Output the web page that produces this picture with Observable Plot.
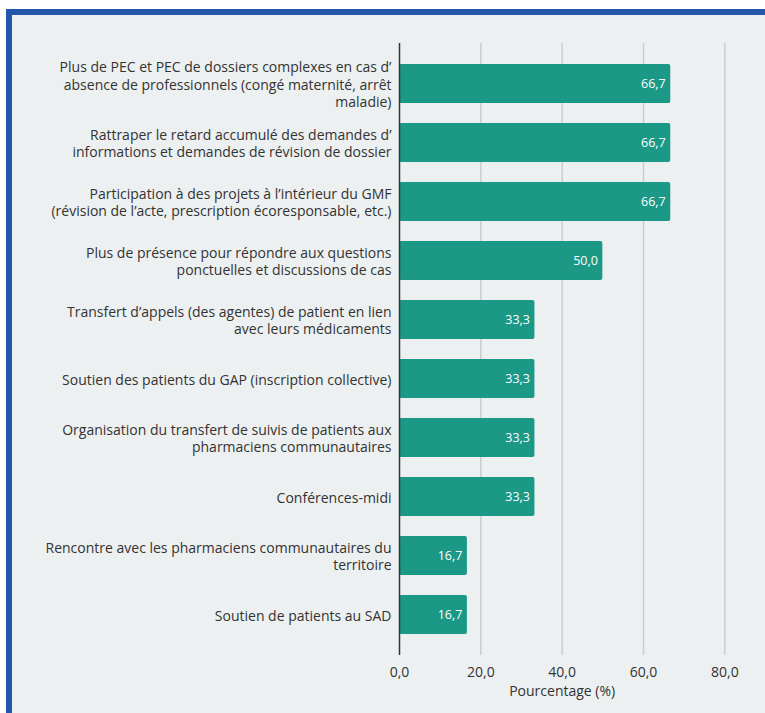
<!DOCTYPE html>
<html>
<head>
<meta charset="utf-8">
<script src="https://cdn.jsdelivr.net/npm/d3@7"></script>
<script src="https://cdn.jsdelivr.net/npm/@observablehq/plot@0.6"></script>
<style>
  html, body { margin: 0; padding: 0; background: #ffffff; overflow: hidden; }
  #frame {
    position: absolute; left: 6px; top: 9px;
    width: 800px; height: 760px;
    border-left: 6px solid #2456ac; border-top: 6px solid #2456ac;
    background: #ecf0f1;
  }
  #chart svg { display: block; }
</style>
</head>
<body>
<div id="frame"><div id="chart"></div></div>
<script>
const categories = [
  "Plus de PEC et PEC de dossiers complexes en cas d’\nabsence de professionnels (congé maternité, arrêt\nmaladie)",
  "Rattraper le retard accumulé des demandes d’\ninformations et demandes de révision de dossier",
  "Participation à des projets à l’intérieur du GMF\n(révision de l’acte, prescription écoresponsable, etc.)",
  "Plus de présence pour répondre aux questions\nponctuelles et discussions de cas",
  "Transfert d’appels (des agentes) de patient en lien\navec leurs médicaments",
  "Soutien des patients du GAP (inscription collective)",
  "Organisation du transfert de suivis de patients aux\npharmaciens communautaires",
  "Conférences-midi",
  "Rencontre avec les pharmaciens communautaires du\nterritoire",
  "Soutien de patients au SAD"
];
const values = [66.7, 66.7, 66.7, 50.0, 33.3, 33.3, 33.3, 33.3, 16.7, 16.7];
const xTicks = [0, 20, 40, 60, 80];
const xLabel = "Pourcentage (%)";

const data = categories.map((c, i) => ({category: c, value: values[i]}));
const fmt = v => v.toFixed(1).replace(".", ",");

const plot = Plot.plot({
  width: 753,
  height: 698,
  marginLeft: 387,
  marginRight: 0,
  marginTop: 28,
  marginBottom: 58,
  style: {background: "transparent", fontFamily: "Open Sans, sans-serif", fontSize: "14px", color: "#333"},
  x: {domain: [0, 90], axis: null},
  y: {domain: categories, padding: 0.34, axis: null},
  marks: [
    Plot.ruleX(xTicks.filter(d => d > 0), {stroke: "#c9cdcf", strokeWidth: 1.5}),
    Plot.barX(data, {y: "category", x: "value", fill: "#1b9886", rx: 2}),
    Plot.text(data, {y: "category", x: "value", text: d => fmt(d.value), textAnchor: "end", dx: -5, fill: "white", fontSize: 12.5}),
    Plot.ruleX([0], {stroke: "#333", strokeWidth: 1.5}),
    Plot.axisY({tickSize: 0, tickPadding: 8, fontSize: 14, lineHeight: 1.25, fill: "#333", label: null}),
    Plot.axisX({ticks: xTicks, tickFormat: fmt, tickSize: 0, tickPadding: 12, fontSize: 14, fill: "#333", label: null}),
    Plot.text([xLabel], {x: 40, frameAnchor: "bottom", dy: 40, fontSize: 14, fill: "#333"})
  ]
});
document.getElementById("chart").appendChild(plot);
</script>
</body>
</html>
